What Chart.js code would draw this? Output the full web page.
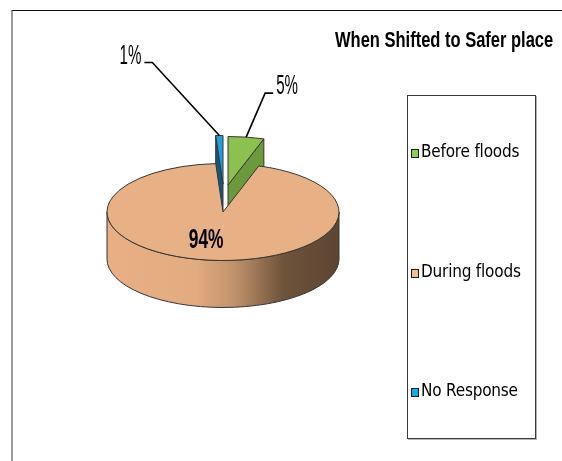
<!DOCTYPE html>
<html>
<head>
<meta charset="utf-8">
<script src="https://cdn.jsdelivr.net/npm/chart.js@4.4.1/dist/chart.umd.min.js"></script>
<style>
  html, body { margin: 0; padding: 0; background: #fff; }
  body { position: relative; width: 562px; height: 461px; overflow: hidden; }
  #frame {
    position: absolute; left: 11px; top: 10px; width: 620px; height: 520px;
    border-left: 2px solid #9b9b9b; border-top: 1px solid #111;
  }
  #pie { position: absolute; left: 0; top: 0; }
  #title {
    position: absolute; left: 335px; top: 27px; white-space: nowrap;
    font: bold 22px "Liberation Sans", Arial, sans-serif;
    transform: scaleX(0.75); transform-origin: left top; color: #000;
  }
  #legend {
    position: absolute; left: 407px; top: 95px; width: 127px; height: 342px;
    border: 1px solid #3a3a3a; box-shadow: 1px 1px 0 #b5b5b5;
  }
  .item {
    position: absolute; left: 3px; height: 18px; line-height: 18px; white-space: nowrap;
    font: 17px "DejaVu Sans", sans-serif; font-stretch: condensed;
    letter-spacing: -0.2px; color: #000;
  }
  .swatch {
    display: inline-block; width: 6px; height: 7px; margin-right: 2px;
    border: 1.5px solid #1a1a1a; vertical-align: -1px;
  }
</style>
</head>
<body>
<div id="frame"></div>
<canvas id="pie" width="562" height="461"></canvas>
<div id="title">When Shifted to Safer place</div>
<div id="legend"></div>
<script>
const labels = ["Before floods", "During floods", "No Response"];
const shares = [5, 94, 1];

const topColors = ["#8cc152", "#e8b185", "#1ea0da"];
const sideColors = ["#6a9a3c", "#8b6b4f", "#0c5b7e"];
const swatchColors = ["#8ccf4e", "#f8bd8e", "#12abe4"];

// exploded slices sit further back on the plate
const explodeX = [5, 0, 0];
const explodeY = [-27, 0, -28];
// where each leader line bends, measured from the slice rim
const leaderOffsets = [[19, -44], null, [-67, -73]];

const K = 0.418;     // how flat the top face is drawn
const DEPTH = 47;    // height of the pie wall

function ellPoint(cx, cy, r, a) {
  return [cx + r * Math.cos(a), cy + K * r * Math.sin(a)];
}

// parts of an angle span that face the viewer (lower half of the ellipse)
function frontSpans(s, e) {
  const out = [];
  for (let n = -1; n <= 1; n++) {
    const lo = Math.max(s, n * 2 * Math.PI);
    const hi = Math.min(e, n * 2 * Math.PI + Math.PI);
    if (hi > lo) out.push([lo, hi]);
  }
  return out;
}

function wallGradient(ctx, cx, r) {
  const g = ctx.createLinearGradient(cx - r, 0, cx + r, 0);
  g.addColorStop(0, "#e7af83");
  g.addColorStop(0.38, "#e3ab80");
  g.addColorStop(0.55, "#c0926b");
  g.addColorStop(0.76, "#6f533b");
  g.addColorStop(1, "#5c4533");
  return g;
}

function arcGeom(arc) {
  return arc.getProps(["x", "y", "startAngle", "endAngle", "outerRadius"], true);
}

const pie3d = {
  id: "pie3d",
  beforeDatasetDraw(chart, args) {
    const ctx = chart.ctx;
    const arcs = args.meta.data;
    const order = arcs.map((a, i) => i).sort((p, q) => explodeY[p] - explodeY[q]);

    order.forEach(i => {
      const arc = arcs[i];
      const { x, y, startAngle, endAngle, outerRadius: r } = arcGeom(arc);
      const cx = x + explodeX[i];
      const cy = y + explodeY[i];

      ctx.save();
      ctx.lineWidth = 1;
      ctx.strokeStyle = "#353535";
      ctx.lineJoin = "round";

      // cut faces of the wedge that turn towards us
      const faces = [];
      if (Math.cos(startAngle) < 0) faces.push(startAngle);
      if (Math.cos(endAngle) > 0) faces.push(endAngle);
      faces.forEach(a => {
        const [px, py] = ellPoint(cx, cy, r, a);
        ctx.beginPath();
        ctx.moveTo(cx, cy);
        ctx.lineTo(px, py);
        ctx.lineTo(px, py + DEPTH);
        ctx.lineTo(cx, cy + DEPTH);
        ctx.closePath();
        ctx.fillStyle = sideColors[i];
        ctx.fill();
        ctx.stroke();
      });

      // curved outer wall
      frontSpans(startAngle, endAngle).forEach(([a0, a1]) => {
        ctx.beginPath();
        ctx.ellipse(cx, cy, r, K * r, 0, a0, a1);
        ctx.ellipse(cx, cy + DEPTH, r, K * r, 0, a1, a0, true);
        ctx.closePath();
        ctx.fillStyle = wallGradient(ctx, cx, r);
        ctx.fill();
        ctx.stroke();
      });

      // top face: the library's own arc, flattened
      ctx.save();
      ctx.translate(explodeX[i], explodeY[i]);
      ctx.translate(0, y);
      ctx.scale(1, K);
      ctx.translate(0, -y);
      arc.draw(ctx);
      ctx.restore();

      ctx.beginPath();
      ctx.moveTo(cx, cy);
      ctx.ellipse(cx, cy, r, K * r, 0, startAngle, endAngle);
      ctx.closePath();
      ctx.stroke();
      ctx.restore();
    });
    return false;
  },
  afterDatasetsDraw(chart) {
    const ctx = chart.ctx;
    const arcs = chart.getDatasetMeta(0).data;
    arcs.forEach((arc, i) => {
      const { x, y, startAngle, endAngle, outerRadius: r } = arcGeom(arc);
      const mid = (startAngle + endAngle) / 2;
      const text = shares[i] + "%";
      ctx.save();
      ctx.fillStyle = "#000";
      ctx.textBaseline = "alphabetic";
      if (leaderOffsets[i]) {
        const [px, py] = ellPoint(x + explodeX[i], y + explodeY[i], r, mid);
        const [ox, oy] = leaderOffsets[i];
        const bx = px + ox, by = py + oy;
        const dir = ox < 0 ? -1 : 1;
        ctx.beginPath();
        ctx.moveTo(px, py);
        ctx.lineTo(bx, by);
        ctx.lineTo(bx + dir * 8, by);
        ctx.lineWidth = 1.6;
        ctx.strokeStyle = "#000";
        ctx.stroke();
        ctx.translate(bx + dir * 11, by + 1);
        ctx.scale(0.56, 1);
        ctx.font = '27px "Liberation Sans", Arial, sans-serif';
        ctx.textAlign = dir < 0 ? "right" : "left";
        ctx.fillText(text, 0, 0);
      } else {
        const [lx, ly] = ellPoint(x, y, r * 0.54, mid);
        ctx.translate(lx - 9, ly + 10);
        ctx.scale(0.62, 1);
        ctx.font = 'bold 28px "Liberation Sans", Arial, sans-serif';
        ctx.textAlign = "center";
        ctx.fillText(text, 0, 0);
      }
      ctx.restore();
    });
  }
};

new Chart(document.getElementById("pie"), {
  type: "pie",
  data: {
    labels: labels,
    datasets: [{
      data: shares,
      backgroundColor: topColors,
      borderWidth: 0
    }]
  },
  options: {
    responsive: false,
    animation: false,
    events: [],
    radius: 116,
    layout: { padding: { left: 0, right: 116, top: 0, bottom: 37 } },
    plugins: {
      legend: { display: false },
      tooltip: { enabled: false }
    }
  },
  plugins: [pie3d]
});

// legend box on the right
const legend = document.getElementById("legend");
labels.forEach((name, i) => {
  const row = document.createElement("div");
  row.className = "item";
  row.style.top = (45 + i * 119.5) + "px";
  const sw = document.createElement("span");
  sw.className = "swatch";
  sw.style.background = swatchColors[i];
  row.appendChild(sw);
  row.appendChild(document.createTextNode(name));
  legend.appendChild(row);
});
</script>
</body>
</html>
